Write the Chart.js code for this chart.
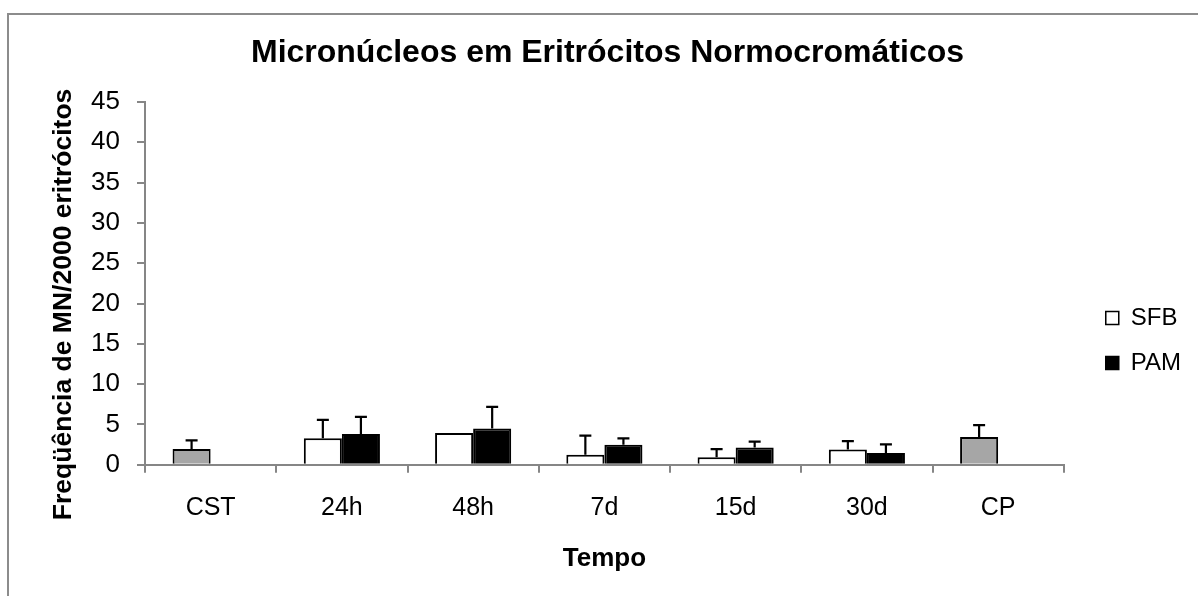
<!DOCTYPE html>
<html>
<head>
<meta charset="utf-8">
<script src="https://cdn.jsdelivr.net/npm/chart.js"></script>
<style>
  html, body { margin: 0; padding: 0; background: #fff; }
  body { width: 1198px; height: 596px; position: relative; overflow: hidden; }
  .frame {
    position: absolute;
    left: 7px;
    top: 13px;
    width: 1300px;
    height: 700px;
    border-top: 2px solid #8c8c8c;
    border-left: 2px solid #8c8c8c;
  }
  .wrap { position: absolute; left: 0; top: 0; width: 1198px; height: 596px; }
</style>
</head>
<body>
<div class="frame"></div>
<div class="wrap"><canvas id="chart" width="1198" height="596"></canvas></div>

<script>
// data
const categories = ["CST", "24h", "48h", "7d", "15d", "30d", "CP"];
const controlCategories = ["CST", "CP"];
const sfbValues = [1.95, 3.3, 3.95, 1.25, 0.95, 1.9, 3.45];
const sfbErrors = [1.08, 2.28, 0, 2.37, 1.0, 1.04, 1.46];
const pamValues = [null, 3.82, 4.5, 2.5, 2.16, 1.45, null];
const pamErrors = [null, 2.12, 2.69, 0.79, 0.71, 1.08, null];
const yTicks = [0, 5, 10, 15, 20, 25, 30, 35, 40, 45];
const yTitle = "Freqüência de MN/2000 eritrócitos";

const FONT = "'Liberation Sans', Arial, sans-serif";
const AXIS_GRAY = "#868686";
const CONTROL_GRAY = "#a6a6a6";

const sfbColors = categories.map(c => controlCategories.includes(c) ? CONTROL_GRAY : "#ffffff");

// ==========================
// ERROR BARS (upper only)
// ==========================
const errorBars = {
  id: "errorBars",
  afterDatasetsDraw(chart) {
    const ctx = chart.ctx;
    const y = chart.scales.y;
    const errs = [sfbErrors, pamErrors];
    ctx.save();
    ctx.strokeStyle = "#000";
    ctx.lineWidth = 2.2;
    chart.data.datasets.forEach((ds, i) => {
      const meta = chart.getDatasetMeta(i);
      meta.data.forEach((bar, j) => {
        const v = ds.data[j];
        const e = errs[i][j];
        if (v == null || !e) return;
        const top = y.getPixelForValue(v + e);
        ctx.beginPath();
        ctx.moveTo(bar.x, bar.y);
        ctx.lineTo(bar.x, top);
        ctx.moveTo(bar.x - 6, top);
        ctx.lineTo(bar.x + 6, top);
        ctx.stroke();
      });
    });
    ctx.restore();
  }
};

// y title sits a bit below the plot centre in the original, so draw it here
const yAxisTitle = {
  id: "yAxisTitle",
  afterDraw(chart) {
    const ctx = chart.ctx;
    const area = chart.chartArea;
    ctx.save();
    ctx.translate(64, (area.top + area.bottom) / 2 + 21);
    ctx.rotate(-Math.PI / 2);
    ctx.fillStyle = "#000";
    ctx.font = "bold 26.5px " + FONT;
    ctx.textAlign = "center";
    ctx.textBaseline = "middle";
    ctx.fillText(yTitle, 0, 0);
    ctx.restore();
  }
};

new Chart(document.getElementById("chart"), {
  type: "bar",
  data: {
    labels: categories,
    datasets: [
      {
        label: "SFB",
        data: sfbValues,
        backgroundColor: sfbColors,
        borderColor: "#000",
        borderWidth: 2,
        categoryPercentage: 0.58,
        barPercentage: 1
      },
      {
        label: "PAM",
        data: pamValues,
        backgroundColor: "#000",
        borderColor: "#000",
        borderWidth: 2,
        categoryPercentage: 0.58,
        barPercentage: 1
      }
    ]
  },
  options: {
    responsive: false,
    animation: false,
    layout: { padding: { left: 24, right: 7, top: 0, bottom: 0 } },
    plugins: {
      tooltip: { enabled: false },
      title: {
        display: true,
        text: "Micronúcleos em Eritrócitos Normocromáticos",
        color: "#000",
        font: { family: FONT, size: 32, weight: "bold" },
        padding: { top: 34, bottom: 29.6 }
      },
      legend: {
        position: "right",
        align: "center",
        title: { display: true, text: "", padding: { top: 0, bottom: 56 }, font: { size: 24 } },
        labels: {
          color: "#000",
          font: { family: FONT, size: 24 },
          boxWidth: 13,
          boxHeight: 13,
          padding: 21,
          generateLabels: () => [
            { text: "SFB", fillStyle: "#fff", strokeStyle: "#000", fontColor: "#000", lineWidth: 1.5, datasetIndex: 0 },
            { text: "PAM", fillStyle: "#000", strokeStyle: "#000", fontColor: "#000", lineWidth: 1.5, datasetIndex: 1 }
          ]
        }
      }
    },
    scales: {
      x: {
        grid: {
          offset: true,
          drawOnChartArea: false,
          color: AXIS_GRAY,
          lineWidth: 2,
          tickLength: 8
        },
        border: { display: true, color: AXIS_GRAY, width: 2 },
        ticks: { color: "#000", font: { family: FONT, size: 25 }, padding: 20 },
        title: {
          display: true,
          text: "Tempo",
          color: "#000",
          font: { family: FONT, size: 26, weight: "bold" },
          padding: { top: 0, bottom: 22 }
        }
      },
      y: {
        min: 0,
        max: 45,
        afterBuildTicks: (scale) => { scale.ticks = yTicks.map(v => ({ value: v })); },
        afterFit: (scale) => { scale.width = 121; },
        grid: {
          drawOnChartArea: false,
          color: AXIS_GRAY,
          lineWidth: 2,
          tickLength: 8
        },
        border: { display: true, color: AXIS_GRAY, width: 2 },
        ticks: { color: "#000", font: { family: FONT, size: 26 }, padding: 17 }
      },
      // empty spacer between the plot and the legend
      gap: {
        position: "right",
        display: true,
        grid: { display: false },
        border: { display: false },
        ticks: { display: false },
        afterFit: (scale) => { scale.width = 21; }
      }
    }
  },
  plugins: [errorBars, yAxisTitle]
});
</script>
</body>
</html>
